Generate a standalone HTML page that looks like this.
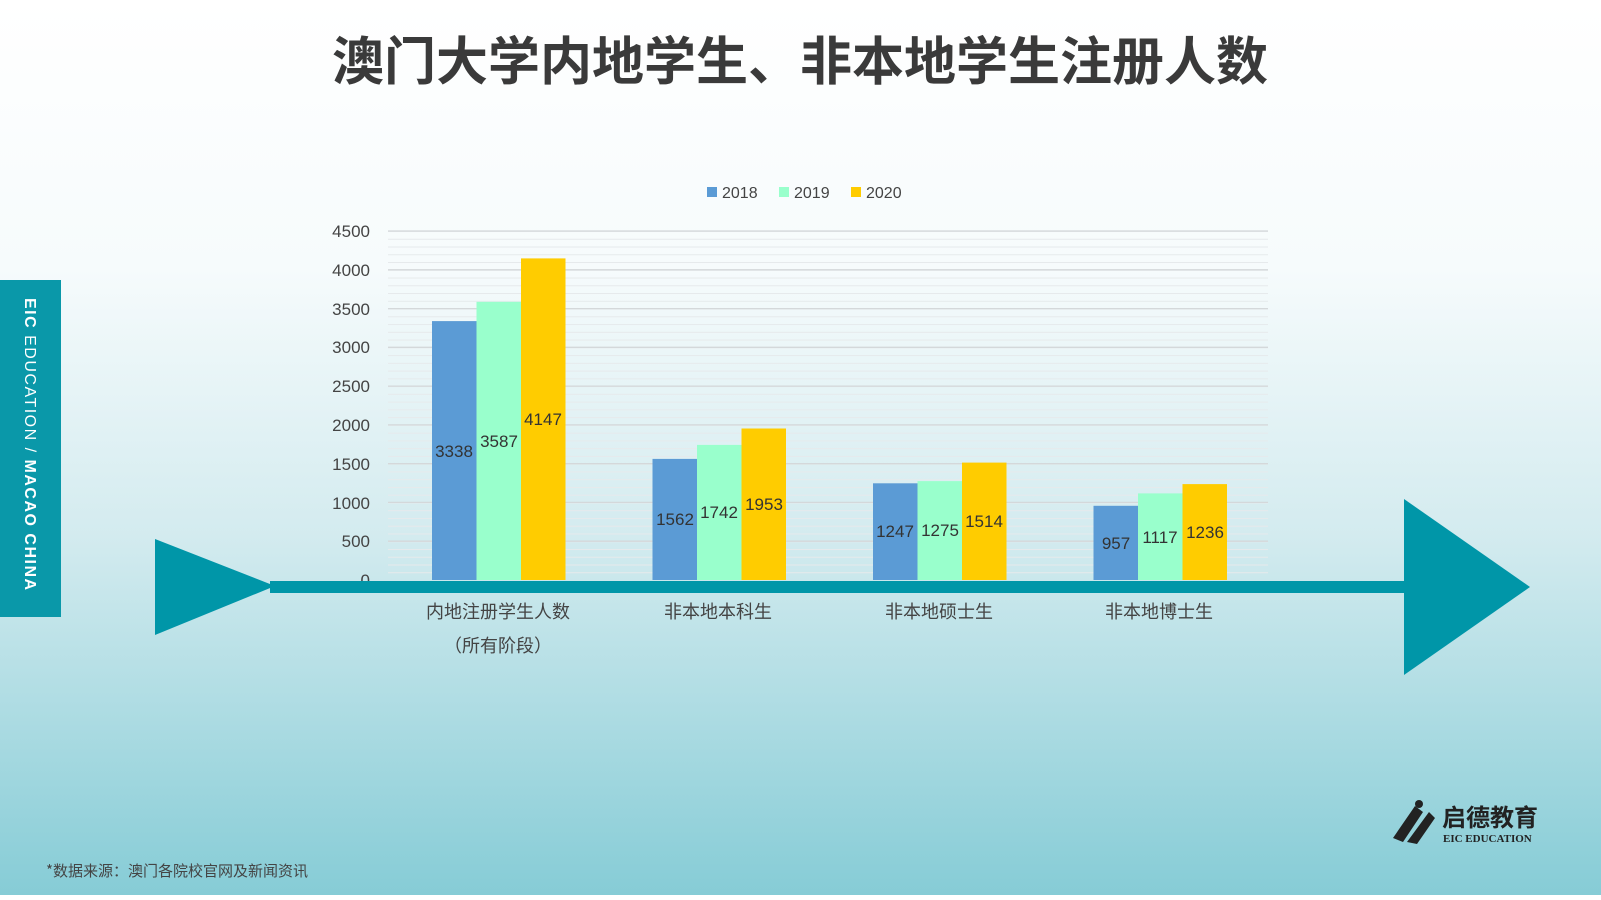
<!DOCTYPE html>
<html><head><meta charset="utf-8"><style>
body{margin:0;width:1601px;height:895px;overflow:hidden;font-family:"Liberation Sans","Noto Sans CJK SC",sans-serif;}
</style></head><body>
<svg width="1601" height="895" xmlns="http://www.w3.org/2000/svg" font-family="Liberation Sans, Noto Sans CJK SC, sans-serif">
<defs><linearGradient id="bg" x1="0" y1="0" x2="0" y2="1">
<stop offset="0" stop-color="#ffffff"/><stop offset="0.3" stop-color="#f6fbfc"/><stop offset="0.6" stop-color="#d3ebef"/><stop offset="1" stop-color="#86ccd6"/></linearGradient>
<pattern id="mn" patternUnits="userSpaceOnUse" x="0" y="231" width="10" height="7.7556"><line x1="0" x2="10" y1="0.5" y2="0.5" stroke="#e6eaec" stroke-width="1"/></pattern></defs>
<rect width="1601" height="895" fill="url(#bg)"/>
<text x="800" y="80" text-anchor="middle" font-size="52" font-weight="bold" fill="#3a3a3a" font-family="Noto Sans CJK SC, sans-serif">澳门大学内地学生、非本地学生注册人数</text>
<rect x="0" y="280" width="61" height="337" fill="#0a98a9"/>
<text transform="translate(25,298) rotate(90)" font-size="16" fill="#fff" letter-spacing="1.5"><tspan font-weight="bold">EIC</tspan> EDUCATION  /  <tspan font-weight="bold">MACAO CHINA</tspan></text>
<rect x="388" y="231" width="880" height="349" fill="url(#mn)"/>
<g stroke="#d4d8da" stroke-width="1.3">
<line x1="388" x2="1268" y1="231" y2="231"/><line x1="388" x2="1268" y1="269.8" y2="269.8"/><line x1="388" x2="1268" y1="308.6" y2="308.6"/><line x1="388" x2="1268" y1="347.3" y2="347.3"/><line x1="388" x2="1268" y1="386.1" y2="386.1"/><line x1="388" x2="1268" y1="424.9" y2="424.9"/><line x1="388" x2="1268" y1="463.7" y2="463.7"/><line x1="388" x2="1268" y1="502.4" y2="502.4"/><line x1="388" x2="1268" y1="541.2" y2="541.2"/>
</g>
<g font-size="17" fill="#444" text-anchor="end">
<text x="370" y="237">4500</text><text x="370" y="276">4000</text><text x="370" y="315">3500</text><text x="370" y="353">3000</text><text x="370" y="392">2500</text><text x="370" y="431">2000</text><text x="370" y="470">1500</text><text x="370" y="509">1000</text><text x="370" y="547">500</text><text x="370" y="586">0</text>
</g>
<g fill="#444"><rect x="707" y="187" width="10" height="10" fill="#5b9bd5"/><text x="722" y="198" font-size="16">2018</text>
<rect x="779" y="187" width="10" height="10" fill="#99ffcc"/><text x="794" y="198" font-size="16">2019</text>
<rect x="851" y="187" width="10" height="10" fill="#ffcc00"/><text x="866" y="198" font-size="16">2020</text></g>
<g>
<rect x="432" y="321.1" width="44.5" height="258.9" fill="#5b9bd5"/>
<rect x="476.5" y="301.8" width="44.5" height="278.2" fill="#99ffcc"/>
<rect x="521" y="258.4" width="44.5" height="321.6" fill="#ffcc00"/>
<rect x="652.5" y="458.9" width="44.5" height="121.1" fill="#5b9bd5"/>
<rect x="697" y="444.9" width="44.5" height="135.1" fill="#99ffcc"/>
<rect x="741.5" y="428.5" width="44.5" height="151.5" fill="#ffcc00"/>
<rect x="873" y="483.3" width="44.5" height="96.7" fill="#5b9bd5"/>
<rect x="917.5" y="481.1" width="44.5" height="98.9" fill="#99ffcc"/>
<rect x="962" y="462.6" width="44.5" height="117.4" fill="#ffcc00"/>
<rect x="1093.5" y="505.8" width="44.5" height="74.2" fill="#5b9bd5"/>
<rect x="1138" y="493.4" width="44.5" height="86.6" fill="#99ffcc"/>
<rect x="1182.5" y="484.1" width="44.5" height="95.9" fill="#ffcc00"/>
</g>
<g font-size="17" fill="#333" text-anchor="middle">
<text x="454" y="457">3338</text><text x="499" y="447">3587</text><text x="543" y="425">4147</text>
<text x="675" y="525">1562</text><text x="719" y="518">1742</text><text x="764" y="510">1953</text>
<text x="895" y="537">1247</text><text x="940" y="536">1275</text><text x="984" y="527">1514</text>
<text x="1116" y="549">957</text><text x="1160" y="543">1117</text><text x="1205" y="538">1236</text>
</g>
<polygon points="155,539 155,635 275,586" fill="#0096a8"/>
<rect x="270" y="581" width="1170" height="12" fill="#0096a8"/>
<polygon points="1404,499 1404,675 1530,587" fill="#0096a8"/>
<g font-size="18" fill="#444" text-anchor="middle" font-family="Noto Sans CJK SC, sans-serif">
<text x="498" y="618">内地注册学生人数</text><text x="498" y="652">（所有阶段）</text>
<text x="718" y="618">非本地本科生</text><text x="939" y="618">非本地硕士生</text><text x="1159" y="618">非本地博士生</text></g>
<text x="46" y="876" font-size="15" fill="#444" font-family="Noto Sans CJK SC, sans-serif">*数据来源：澳门各院校官网及新闻资讯</text>
<g transform="translate(1385,798)"><path d="M8 40 L30 8 L38 14 L18 44Z M22 44 L44 14 L50 20 L32 46Z" fill="#222"/><circle cx="34" cy="6" r="4" fill="#222"/></g>
<text x="1442" y="826" font-size="24" font-weight="bold" fill="#222" font-family="Noto Sans CJK SC, sans-serif">启德教育</text>
<text x="1443" y="842" font-size="11" font-weight="bold" fill="#222" font-family="Liberation Serif, serif">EIC EDUCATION</text>
</svg>
</body></html>
